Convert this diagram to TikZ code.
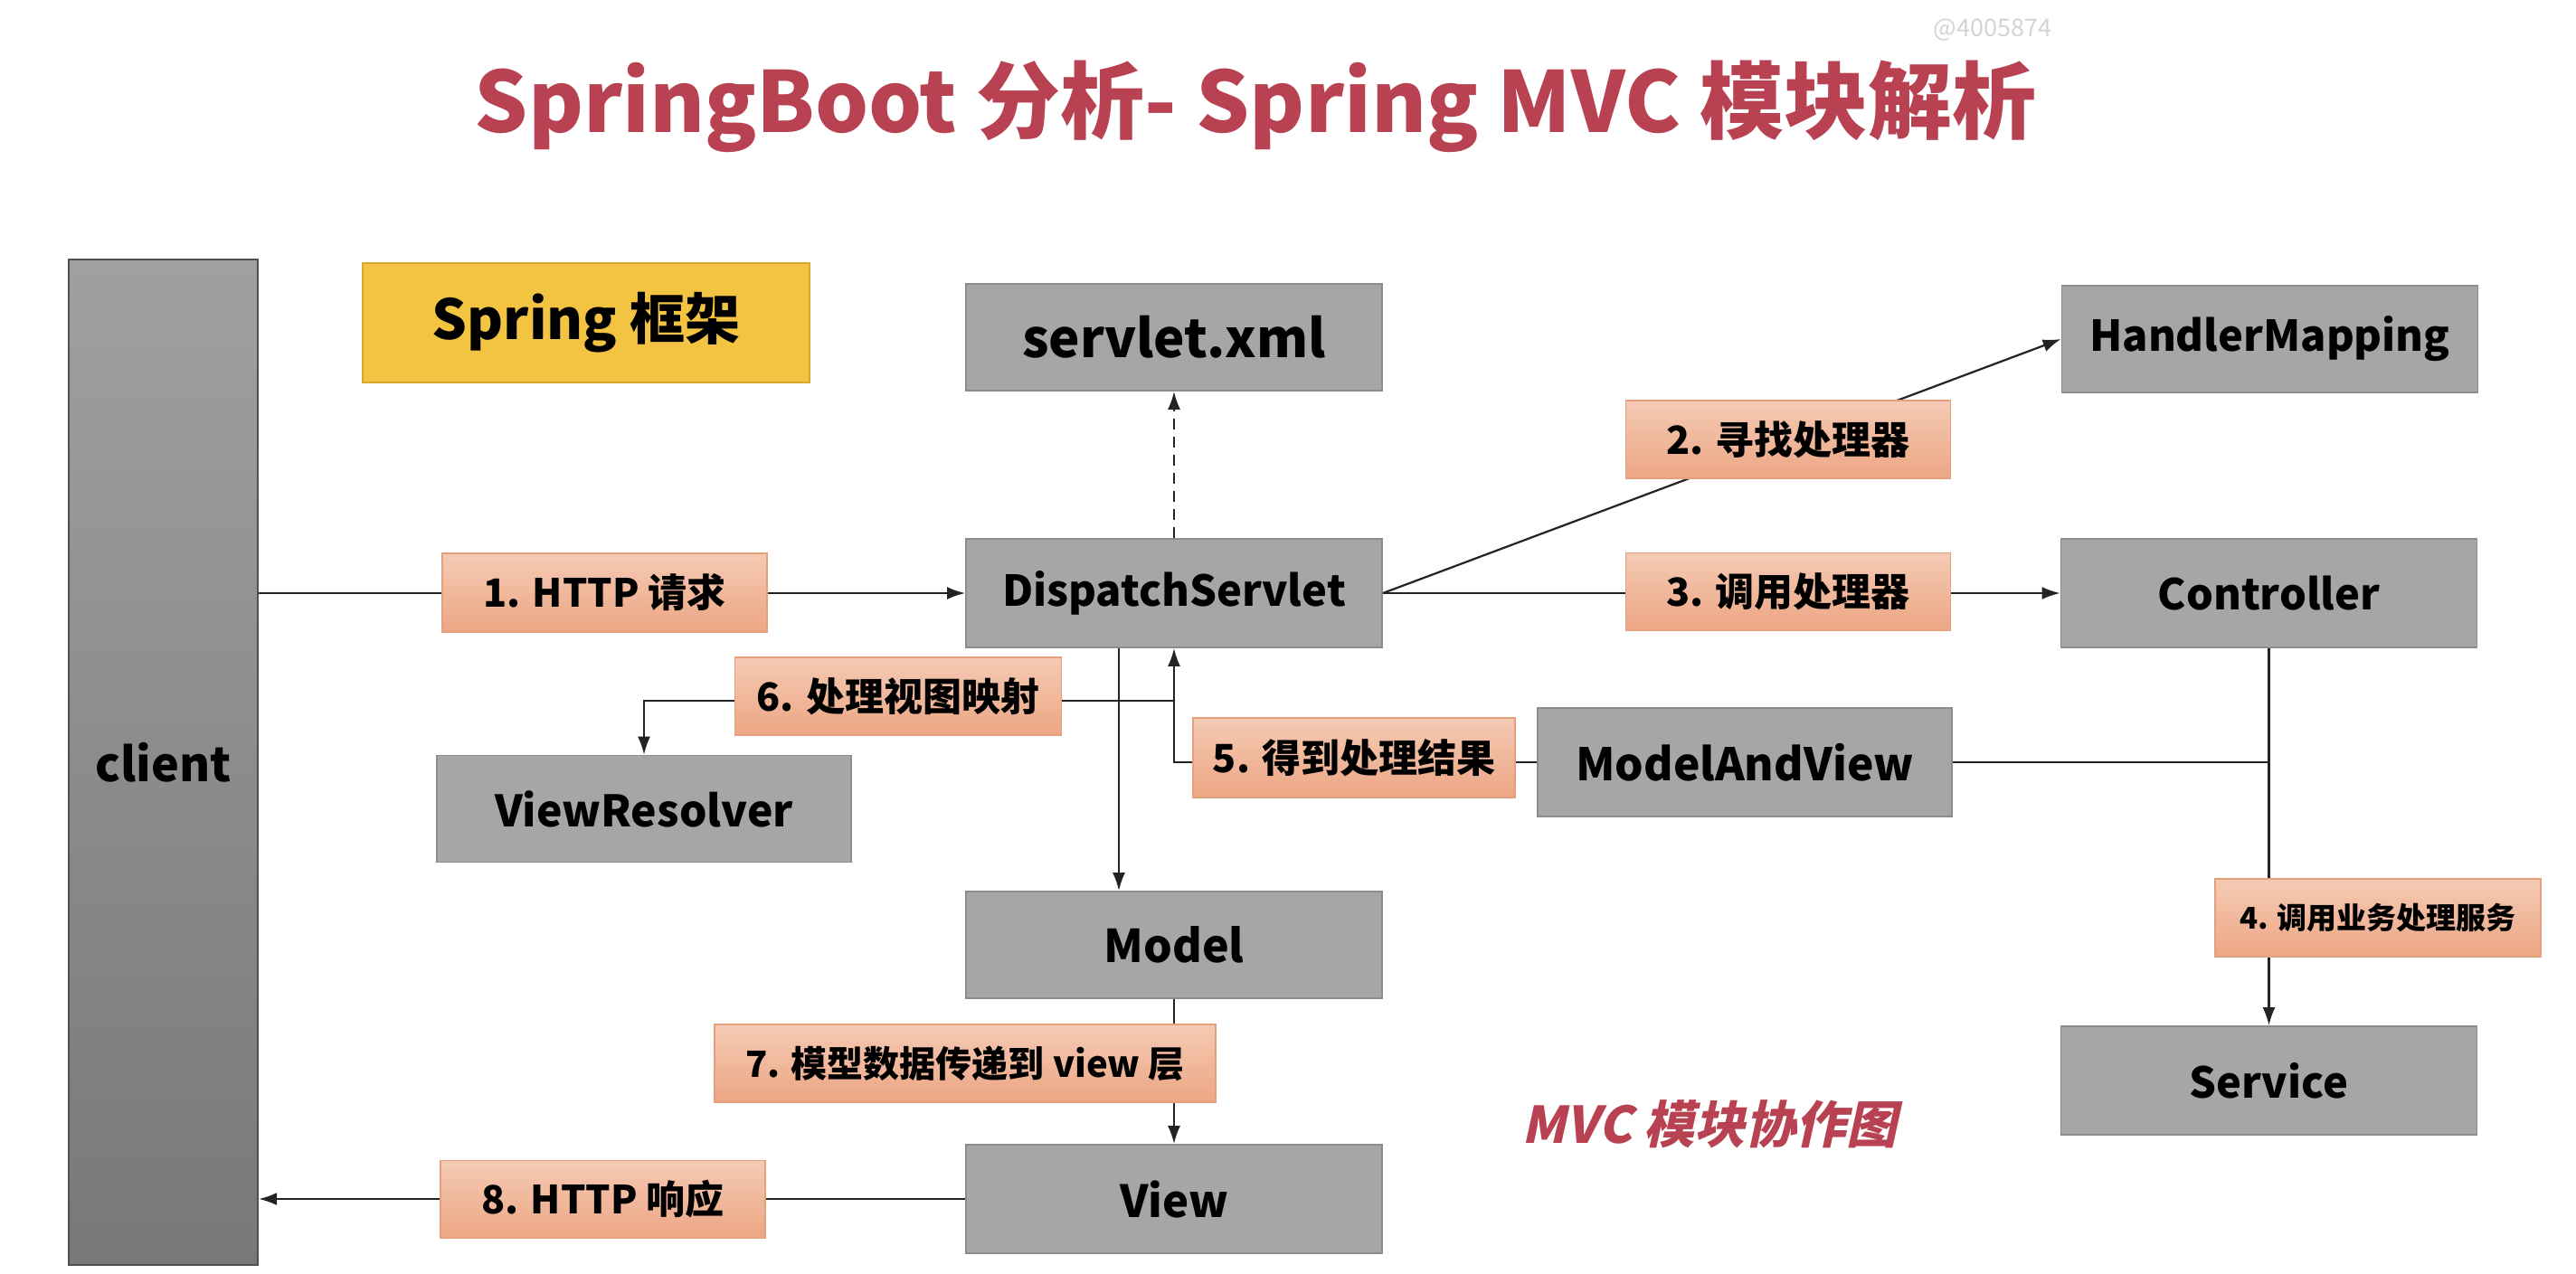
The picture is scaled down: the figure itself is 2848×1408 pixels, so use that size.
\documentclass[tikz,border=0pt]{standalone}
\usepackage{fontspec}
\setmainfont{Noto Sans CJK SC}
\newfontfamily\slantfont{Noto Sans CJK SC}[FakeSlant=0.22]
\usetikzlibrary{arrows.meta,calc}
\definecolor{boxgray}{RGB}{166,166,166}
\definecolor{boxline}{RGB}{140,140,140}
\definecolor{cltop}{RGB}{160,160,160}
\definecolor{clbot}{RGB}{120,120,120}
\definecolor{clline}{RGB}{80,80,80}
\definecolor{orgtop}{RGB}{245,202,180}
\definecolor{orgbot}{RGB}{236,166,132}
\definecolor{orgline}{RGB}{228,160,124}
\definecolor{yel}{RGB}{242,196,66}
\definecolor{yelline}{RGB}{214,168,46}
\definecolor{titred}{RGB}{184,66,82}
\definecolor{wmgray}{RGB}{212,212,212}
\definecolor{lncol}{RGB}{35,35,35}
\begin{document}
\begin{tikzpicture}[x=0.5pt,y=-0.5pt,
  box/.style={draw=boxline, fill=boxgray, line width=0.9pt, inner sep=0pt,
    minimum width=230pt, minimum height=59pt,
    font=\bfseries\fontsize{23.5}{28}\selectfont},
  lbl/.style={draw=orgline, top color=orgtop, bottom color=orgbot, line width=0.9pt,
    inner sep=0pt, minimum width=179.5pt, minimum height=43pt,
    font=\bfseries\fontsize{21.5}{26}\selectfont},
  conn/.style={draw=lncol, line width=1.1pt},
  arr/.style={conn, -{Latex[length=10pt,width=7pt]}}
]
\useasboundingbox (0,0) rectangle (2848,1408);
\fill[white] (0,0) rectangle (2848,1408);

% texts
\node[anchor=base, text=wmgray, font=\fontsize{13.5}{16}\selectfont] (wm) at (2203,40) {@4005874};
\node[anchor=base, text=titred, font=\bfseries\fontsize{46.5}{56}\selectfont] (title) at (1388,146) {SpringBoot 分析- Spring MVC 模块解析};
\node[anchor=base, text=titred, font=\slantfont\bfseries\fontsize{28}{34}\selectfont] (cap) at (1890,1264) {MVC 模块协作图};

% boxes
\node[draw=clline, top color=cltop, bottom color=clbot, line width=1.1pt, inner sep=0pt,
  minimum width=104.5pt, minimum height=556pt, font=\bfseries\fontsize{26}{32}\selectfont] (client) at (180.5,843) {client};
\node[draw=yelline, fill=yel, line width=0.9pt, inner sep=0pt, minimum width=247pt, minimum height=66pt,
  font=\bfseries\fontsize{30.5}{37}\selectfont] (spring) at (648,357) {Spring 框架};
\node[box, font=\bfseries\fontsize{29}{34}\selectfont] (SX) at (1298,373) {servlet.xml};
\node[box] (HM) at (2509.5,375) {HandlerMapping};
\node[box, minimum height=60pt] (DS) at (1298,656) {DispatchServlet};
\node[box, minimum height=60pt] (CT) at (2508.5,656) {Controller};
\node[box, minimum height=60pt, minimum width=229pt, font=\bfseries\fontsize{24.8}{30}\selectfont] (MAV) at (1929,843) {ModelAndView};
\node[box, minimum width=229pt, font=\bfseries\fontsize{24}{29}\selectfont] (VR) at (712,894.5) {ViewResolver};
\node[box, font=\bfseries\fontsize{25}{30}\selectfont] (MD) at (1298,1045) {Model};
\node[box, minimum height=60pt, font=\bfseries\fontsize{24.5}{29}\selectfont] (VW) at (1298,1326) {View};
\node[box, minimum height=60pt] (SV) at (2508.5,1195) {Service};

% connectors
\coordinate (j6) at (1298,775);
\draw[arr] (client.east |- DS.west) -- (DS.west);
\draw[arr, dash pattern=on 6pt off 4pt] (DS.north) -- (SX.south);
\draw[arr] (DS.east) -- (HM.west);
\draw[arr] (DS.east) -- (CT.west);
\draw[arr] (CT.south) -- (SV.north);
\draw[conn] (MAV.east) -- (CT.south |- MAV.east);
\draw[arr] (MAV.west) -| (DS.south);
\draw[arr] (j6) -| (VR.north);
\draw[arr] ($(DS.south)+(-61,0)$) -- ($(MD.north)+(-61,0)$);
\draw[arr] (MD.south) -- (VW.north);
\draw[arr] (VW.west) -- (client.east |- VW.west);

% labels
\node[lbl, minimum height=43.5pt] (L1) at (668.5,655.5) {1. HTTP 请求};
\node[lbl] (L2) at (1977,486) {2. 寻找处理器};
\node[lbl] (L3) at (1977,654.5) {3. 调用处理器};
\node[lbl, minimum width=180pt, font=\bfseries\fontsize{16.5}{20}\selectfont] (L4) at (2629,1015) {4. 调用业务处理服务};
\node[lbl, minimum width=178pt, minimum height=44pt] (L5) at (1497,838) {5. 得到处理结果};
\node[lbl, minimum width=180.5pt] (L6) at (993,770) {6. 处理视图映射};
\node[lbl, minimum width=277pt, font=\bfseries\fontsize{20}{24}\selectfont] (L7) at (1067,1176) {7. 模型数据传递到 view 层};
\node[lbl] (L8) at (666.5,1326.5) {8. HTTP 响应};
\end{tikzpicture}
\end{document}
